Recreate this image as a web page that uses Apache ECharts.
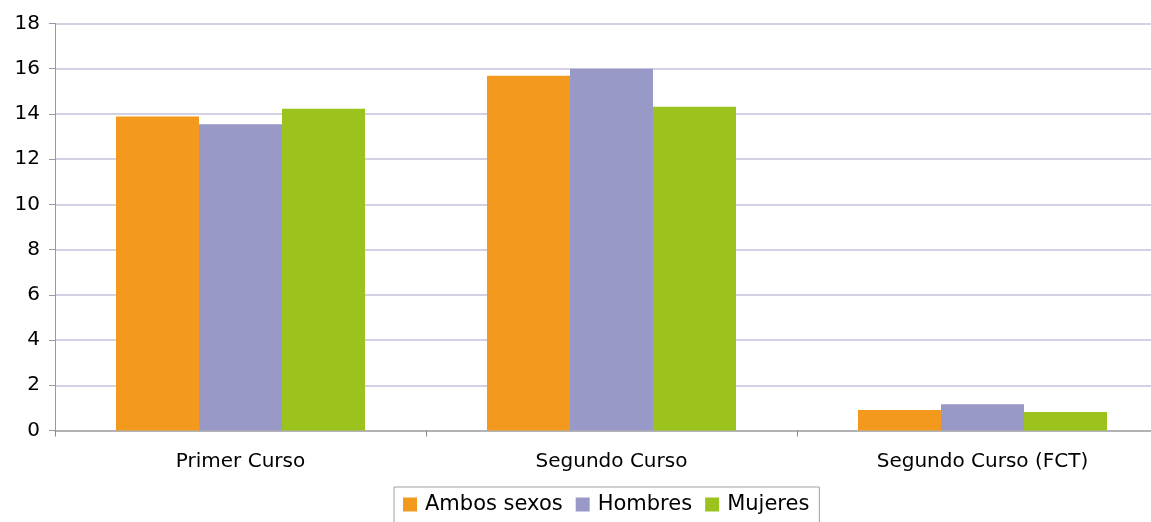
<!DOCTYPE html>
<html>
<head>
<meta charset="utf-8">
<script src="https://cdn.jsdelivr.net/npm/echarts@6/dist/echarts.min.js"></script>
<style>
  html, body { margin: 0; padding: 0; background: #fff; overflow: hidden; }
  /* el gráfico original está recortado a la derecha */
  #chart { width: 1168px; height: 522px; }
</style>
</head>
<body>
<div id="chart"></div>
<script>
// datos del gráfico
var cursos = ['Primer Curso', 'Segundo Curso', 'Segundo Curso (FCT)'];
var ambosSexos = [13.89, 15.69, 0.91];
var hombres = [13.54, 16.0, 1.16];
var mujeres = [14.23, 14.32, 0.82];
var seriesNames = ['Ambos sexos', 'Hombres', 'Mujeres'];
var colores = ['#F39A1E', '#9999C8', '#9BC21D'];

var chart = echarts.init(document.getElementById('chart'));

function barra(name, data, color) {
  return {
    name: name,
    type: 'bar',
    data: data,
    barWidth: 83,
    barGap: '0%',
    itemStyle: { color: color },
    emphasis: { disabled: true }
  };
}

var option = {
  animation: false,
  textStyle: { fontFamily: 'DejaVu Sans, sans-serif' },
  legend: {
    top: 487,
    left: 394,
    itemWidth: 14,
    itemHeight: 14,
    itemGap: 13,
    padding: [7, 10, 16, 9],
    borderColor: '#a0a0a0',
    borderWidth: 1,
    icon: 'rect',
    textStyle: { fontSize: 21, color: '#000', padding: [0, 0, 0, 3] },
    data: seriesNames
  },
  grid: {
    left: 55,
    top: 23.5,
    right: 0,
    height: 407
  },
  xAxis: {
    type: 'category',
    data: cursos,
    axisLine: { lineStyle: { color: '#a8a8a8', width: 1.5 } },
    axisTick: { show: true, length: 6, lineStyle: { color: '#888' } },
    axisLabel: { color: '#000', fontSize: 20, margin: 21 }
  },
  yAxis: {
    type: 'value',
    min: 0,
    max: 18,
    interval: 2,
    axisLine: { show: true, lineStyle: { color: '#999', width: 1 } },
    axisTick: { show: true, length: 6, lineStyle: { color: '#999' } },
    axisLabel: { color: '#000', fontSize: 20, margin: 15 },
    splitLine: { lineStyle: { color: '#c6c2dc', width: 1.5 } }
  },
  series: [
    barra(seriesNames[0], ambosSexos, colores[0]),
    barra(seriesNames[1], hombres, colores[1]),
    barra(seriesNames[2], mujeres, colores[2])
  ]
};

chart.setOption(option);
</script>
</body>
</html>
